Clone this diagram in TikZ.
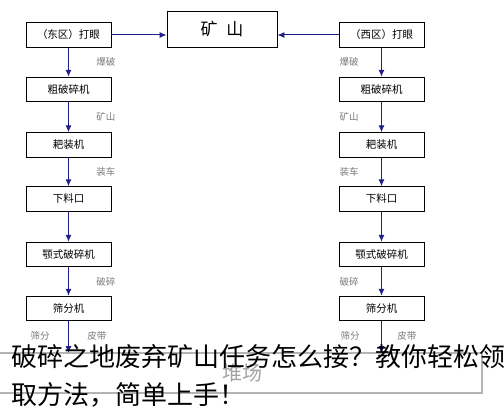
\documentclass[tikz,border=0pt]{standalone}
\usepackage{fontspec}
\setmainfont{Noto Sans CJK SC}
\usetikzlibrary{positioning,arrows.meta}
\definecolor{flowblue}{HTML}{1F1F8A}
\definecolor{lblgray}{HTML}{7A7A7A}
\definecolor{yardgray}{HTML}{B4B4B4}

\tikzstyle{block} = [draw, rectangle, line width=0.9pt, inner sep=0pt,
    minimum height=24.5pt, minimum width=85pt, font=\fontsize{10.5}{12}\selectfont]
\tikzstyle{mine} = [draw, rectangle, line width=0.9pt,
    minimum height=36pt, minimum width=110pt, font=\fontsize{17}{20}\selectfont]
\tikzstyle{lbl} = [text=lblgray, font=\fontsize{9.5}{11}\selectfont]
\tikzstyle{flow} = [draw=flowblue, line width=1pt, -{Latex[length=7pt,width=6pt]}]
\tikzstyle{caption} = [anchor=west, inner sep=0pt, font=\fontsize{26}{30}\selectfont]

\begin{document}
\begin{tikzpicture}[x=1pt,y=-1pt]
    \useasboundingbox (0,0) rectangle (504,417);

    \node[mine] (mine) at (222,29) {矿\hspace{9pt}山};

    % east side
    \node[block] (e1) at (68.5,35) {（东区）打眼};
    \node[block] (e2) at (68.5,89.5) {粗破碎机};
    \node[block] (e3) at (68.5,145) {耙装机};
    \node[block] (e4) at (68.5,199) {下料口};
    \node[block] (e5) at (68.5,254.5) {颚式破碎机};
    \node[block] (e6) at (68.5,308.5) {筛分机};

    % west side
    \node[block] (w1) at (381.5,35) {（西区）打眼};
    \node[block] (w2) at (381.5,89.5) {粗破碎机};
    \node[block] (w3) at (381.5,145) {耙装机};
    \node[block] (w4) at (381.5,199) {下料口};
    \node[block] (w5) at (381.5,254.5) {颚式破碎机};
    \node[block] (w6) at (381.5,308.5) {筛分机};

    % stock yard
    \draw[yardgray, line width=1.5pt] (-2,353) -- (482,353) -- (482,393) -- (-2,393);
    \node[text=yardgray!90!black, font=\fontsize{20}{24}\selectfont] (yard) at (242,373) {堆场};
    \coordinate (eend) at (68.5,353);
    \coordinate (wend) at (381.5,353);

    \draw[flow] (e1.east) -- (e1.east -| mine.west);
    \draw[flow] (w1.west) -- (w1.west -| mine.east);

    \draw[flow] (e1) -- node[lbl, right=24pt] {爆破} (e2);
    \draw[flow] (e2) -- node[lbl, right=24pt] {矿山} (e3);
    \draw[flow] (e3) -- node[lbl, right=24pt] {装车} (e4);
    \draw[flow] (e4) -- (e5);
    \draw[flow] (e5) -- node[lbl, right=24pt] {破碎} (e6);
    \draw[flow] (e6) -- node[lbl, pos=0.45, left=15pt] {筛分}
        node[lbl, pos=0.45, right=15pt] {皮带} (eend);

    \draw[flow] (w1) -- node[lbl, left=19pt] {爆破} (w2);
    \draw[flow] (w2) -- node[lbl, left=19pt] {矿山} (w3);
    \draw[flow] (w3) -- node[lbl, left=19pt] {装车} (w4);
    \draw[flow] (w4) -- (w5);
    \draw[flow] (w5) -- node[lbl, left=19pt] {破碎} (w6);
    \draw[flow] (w6) -- node[lbl, pos=0.45, left=18pt] {筛分}
        node[lbl, pos=0.45, right=12pt] {皮带} (wend);

    \node[caption] (cap1) at (11,357) {破碎之地废弃矿山任务怎么接？教你轻松领};
    \node[caption] (cap2) at (11,395) {取方法，简单上手！};
\end{tikzpicture}
\end{document}
